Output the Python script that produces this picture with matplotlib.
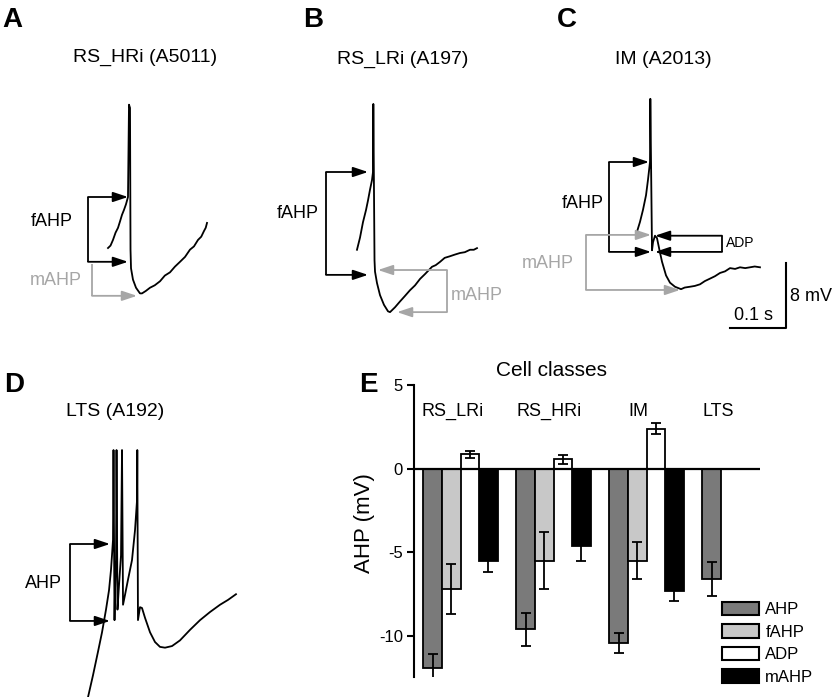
import matplotlib
matplotlib.use("Agg")
import matplotlib.pyplot as plt
from matplotlib.patches import Patch
import numpy as np

plt.rcParams["font.family"] = ["Liberation Sans", "DejaVu Sans"]

# ---- panel E data: mean AHP components per cell class (mV) ----
classes = ["RS_LRi", "RS_HRi", "IM", "LTS"]
measures = ["AHP", "fAHP", "ADP", "mAHP"]
ahp = [-11.9, -9.6, -10.4, -6.6]
ahp_err = [0.8, 1.0, 0.6, 1.0]
fahp = [-7.2, -5.5, -5.5, np.nan]
fahp_err = [1.5, 1.7, 1.1, np.nan]
adp = [0.85, 0.55, 2.4, np.nan]
adp_err = [0.2, 0.25, 0.35, np.nan]
mahp = [-5.5, -4.6, -7.3, np.nan]
mahp_err = [0.7, 0.9, 0.6, np.nan]

# ---- example traces: time (ms) from spike onset, voltage (mV) from threshold ----
a_t = [-37.5, -33, -28.6, -24, -19.6, -16, -12.5, -9, -5.4, -1.8, 0, 1.8, 2.7, 3.6, 7.1, 12.5,
       19.6, 23.2, 30, 37.5, 46, 55.4, 64, 73.2, 82, 91.1, 100, 108.9, 116, 123.2, 129, 133.9, 137, 139.3]
a_v = [-6.3, -6.0, -5.3, -4.4, -3.8, -3.0, -2.2, -1.6, -0.9, 0, 11.4, 11.0, -6.5, -8.8, -10.2, -11.2,
       -11.9, -11.9, -11.6, -11.2, -10.9, -10.4, -9.7, -9.3, -8.6, -8.0, -7.4, -6.5, -6.1, -5.3, -4.9, -4.2, -3.8, -3.2]

b_t = [-28.6, -23.2, -17.9, -12.5, -8.9, -5.4, -1.8, 0, 0.6, 2.7, 3.6, 7.1, 12.5, 19.6, 26.8, 30.4, 39.3,
       48, 57.1, 66, 75, 84, 92.9, 105.4, 112, 119.6, 128, 137.5, 146, 155.4, 164, 173.2, 180, 185.7]
b_v = [-9.6, -8.1, -6.2, -4.7, -3.5, -2.2, -1.0, 0, 8.4, -10.9, -12.3, -13.7, -15.2, -16.4, -17.2, -17.3, -16.7,
       -16.0, -15.3, -14.6, -14.0, -13.2, -12.6, -11.7, -11.5, -11.1, -10.6, -10.4, -10.2, -10.0, -9.9, -9.6, -9.6, -9.4]

c_t = [-23.2, -17.9, -12.5, -7.1, -3.6, 0, 0.6, 3.6, 5.4, 8.9, 12.5, 16.1, 21.4, 28.6, 35.7, 44.6, 55.4,
       62, 71.4, 80, 89.3, 98, 107.1, 116, 125, 134, 142.9, 152, 160.7, 170, 178.6, 187, 196.4]
c_v = [-8.6, -7.4, -5.9, -4.1, -2.2, 0, 7.8, -10.9, -9.9, -9.1, -9.4, -10.6, -12.3, -14.0, -14.9, -15.4, -15.7,
       -15.5, -15.4, -15.3, -15.1, -14.7, -14.4, -14.1, -13.7, -13.5, -13.1, -13.2, -13.0, -13.1, -13.0, -12.9, -13.0]

d_t = [-44.6, -35.7, -26.8, -19.6, -12.5, -7.1, -3.6, -1.8, 0, 0.9, 2.7, 3.6, 5.4, 6.3, 8.0, 10.7, 14.3, 16.1,
       17.9, 21.4, 26.8, 33.9, 39.3, 42.9, 43.4, 44.6, 48.2, 51.8, 57.1, 66.1, 75.0, 83.9, 92.9, 105.4, 119.6,
       137.5, 155.4, 173.2, 191.1, 205.4, 219.6]
d_v = [-18.9, -16.2, -13.3, -10.9, -8.1, -5.7, -3.2, -1.4, 0.5, 11.6, -9.4, -5.7, -2.0, 11.6, -8.1, -5.1, -1.4, 11.6,
       -7.5, -6.3, -4.4, -2.0, 1.7, 5.4, 11.6, -9.4, -7.8, -7.9, -9.1, -10.9, -12.1, -12.7, -12.8, -12.6, -11.9,
       -10.6, -9.4, -8.4, -7.5, -6.9, -6.2]

scale_ms = 100
scale_mv = 8

# ---- layout ----
W, H = 832, 697
PX_PER_MS = 0.56
PX_PER_MV = 8.1
GRAY = "#a6a6a6"
TXT = 13

fig = plt.figure(figsize=(W / 100, H / 100), dpi=100)


def ftext(x, y, s, **kw):
    kw.setdefault("ha", "center")
    kw.setdefault("va", "center")
    fig.text(x / W, 1 - y / H, s, **kw)


def trace_axes(x0, y0):
    # transparent overlay; t=0, v=0 lands on pixel (x0, y0)
    ax = fig.add_axes([0, 0, 1, 1])
    ax.set_xlim(-x0 / PX_PER_MS, (W - x0) / PX_PER_MS)
    ax.set_ylim((y0 - H) / PX_PER_MV, y0 / PX_PER_MV)
    ax.axis("off")
    return ax


def arrow(ax, x_from, x_to, y, color="black"):
    ax.annotate("", xy=(x_to, y), xytext=(x_from, y),
                arrowprops=dict(arrowstyle="-|>,head_length=0.9,head_width=0.3", color=color,
                                lw=1.3, shrinkA=0, shrinkB=0, mutation_scale=10))


def vline(ax, x, y1, y2, color="black"):
    ax.plot([x, x], [y1, y2], color=color, lw=1.3, solid_capstyle="butt")


# A
axA = trace_axes(129, 197)
axA.plot(a_t, a_v, color="black", lw=1.3)
vline(axA, -73.2, 0, -8.0)
arrow(axA, -73.2, -1.8, 0)
arrow(axA, -73.2, -1.8, -8.0)
vline(axA, -66, -8.3, -12.2, GRAY)
arrow(axA, -66, 14.3, -12.2, GRAY)

# B
axB = trace_axes(373, 172)
axB.plot(b_t, b_v, color="black", lw=1.3)
vline(axB, -83.9, 0, -12.7)
arrow(axB, -83.9, -8.9, 0)
arrow(axB, -83.9, -8.9, -12.7)
vline(axB, 132.1, -12.1, -17.3, GRAY)
arrow(axB, 132.1, 8.9, -12.1, GRAY)
arrow(axB, 132.1, 42.9, -17.3, GRAY)

# C
axC = trace_axes(650, 162)
axC.plot(c_t, c_v, color="black", lw=1.3)
vline(axC, -73.2, 0, -11.1)
arrow(axC, -73.2, -1.8, 0)
arrow(axC, -73.2, 1.8, -11.1)
vline(axC, 128.6, -9.1, -11.1)
arrow(axC, 128.6, 8.9, -9.1)
arrow(axC, 128.6, 8.9, -11.1)
vline(axC, -114.3, -9.0, -15.8, GRAY)
arrow(axC, -114.3, 1.8, -9.0, GRAY)
arrow(axC, -114.3, 53.6, -15.8, GRAY)
sb_t, sb_v = 243, -20.5
axC.plot([sb_t - scale_ms, sb_t, sb_t], [sb_v, sb_v, sb_v + scale_mv], color="black", lw=1.5)

# D
axD = trace_axes(113, 544)
axD.plot(d_t, d_v, color="black", lw=1.3)
vline(axD, -76.8, 0, -9.5)
arrow(axD, -76.8, -5.4, 0)
arrow(axD, -76.8, -5.4, -9.5)

# texts for trace panels
for letter, x, y in [("A", 12, 20), ("B", 313, 20), ("C", 567, 20), ("D", 14, 385), ("E", 368, 385)]:
    ftext(x, y, letter, fontsize=20, fontweight="bold")
ftext(145, 57, "RS_HRi (A5011)", fontsize=14)
ftext(403, 59, "RS_LRi (A197)", fontsize=14)
ftext(663, 60, "IM (A2013)", fontsize=14)
ftext(115, 412, "LTS (A192)", fontsize=14)
ftext(52, 222, "fAHP", fontsize=TXT)
ftext(56, 281, "mAHP", fontsize=TXT, color=GRAY)
ftext(298, 213, "fAHP", fontsize=TXT)
ftext(477, 295, "mAHP", fontsize=TXT, color=GRAY)
ftext(583, 203, "fAHP", fontsize=TXT)
ftext(740, 243, "ADP", fontsize=10)
ftext(548, 263, "mAHP", fontsize=TXT, color=GRAY)
ftext(43, 584, "AHP", fontsize=TXT)
ftext(790, 297, "8 mV", fontsize=TXT, ha="left")
ftext(754, 315, "0.1 s", fontsize=TXT)

# ---- panel E bar chart ----
axE = fig.add_axes([414 / W, 1 - 677 / H, 346 / W, 292 / H])
colors = ["#7a7a7a", "#c8c8c8", "white", "black"]
series = [(ahp, ahp_err), (fahp, fahp_err), (adp, adp_err), (mahp, mahp_err)]
width = 0.2
offsets = [-0.3, -0.1, 0.1, 0.3]
for (vals, errs), col, off in zip(series, colors, offsets):
    x = np.arange(len(classes)) + off
    vals = np.array(vals)
    errs = np.array(errs)
    ok = ~np.isnan(vals)
    axE.bar(x[ok], vals[ok], width, color=col, edgecolor="black", linewidth=1.3, zorder=2)
    axE.errorbar(x[ok], vals[ok], yerr=errs[ok], fmt="none", ecolor="black",
                 elinewidth=1.3, capsize=3.5, capthick=1.3, zorder=3)

axE.axhline(0, color="black", lw=1.6, zorder=4)
axE.set_xlim(-0.5, 3.22)
axE.set_ylim(-12.45, 5)
axE.set_yticks([5, 0, -5, -10])
axE.set_yticklabels(["5", "0", "-5", "-10"])
axE.set_xticks([])
for s in ["top", "right", "bottom"]:
    axE.spines[s].set_visible(False)
axE.spines["left"].set_linewidth(1.5)
axE.tick_params(axis="y", direction="out", length=5, width=1.5, labelsize=12, pad=3)
axE.text(-0.142, 0.527, "AHP (mV)", rotation=90, transform=axE.transAxes,
         ha="center", va="center", fontsize=16)
label_x = [-0.09, 0.95, 1.91, 2.77]
for lx, name in zip(label_x, classes):
    axE.text(lx, 3.4, name, ha="center", va="center", fontsize=13)
ftext(552, 370, "Cell classes", fontsize=15)

handles = [Patch(facecolor=c, edgecolor="black", linewidth=1.5) for c in colors]
axE.legend(handles, measures, loc="upper left", bbox_to_anchor=(722 / W, 1 - 602 / H),
           bbox_transform=fig.transFigure, frameon=False, fontsize=12, handlelength=2.2,
           handleheight=0.85, handletextpad=0.4, labelspacing=0.42, borderpad=0, borderaxespad=0)

fig.savefig("out.png", dpi=100)
